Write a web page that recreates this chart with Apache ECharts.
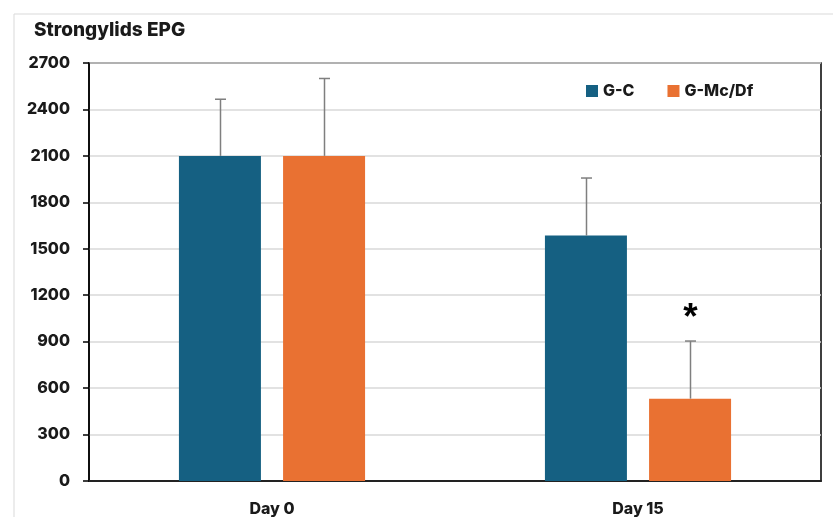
<!DOCTYPE html>
<html>
<head>
<meta charset="utf-8">
<script src="https://cdn.jsdelivr.net/npm/echarts@6/dist/echarts.min.js"></script>
<style>
html,body{margin:0;padding:0;background:#fff;}
#c{width:833px;height:517px;}
</style>
</head>
<body>
<div id="c"></div>
<script>
var categories = ['Day 0', 'Day 15'];
var seriesNames = ['G-C', 'G-Mc/Df'];
var gcValues = [2100, 1585];
var gcErrTop = [2466, 1957];
var mcValues = [2100, 532];
var mcErrTop = [2600, 904];
var mcSignif = ['', '*'];
var yTicks = [0, 300, 600, 900, 1200, 1500, 1800, 2100, 2400, 2700];

var colors = ['#156082', '#E97132'];
var FONT = 'Inter, "Liberation Sans", sans-serif';
var BAR_W = 82;
var GAP = 0.27;

function errSeries(values, tops, sig, sideSign, name) {
  var data = categories.map(function (c, i) { return [i, values[i], tops[i], sig[i] || '']; });
  return {
    type: 'custom',
    name: name + ' err',
    silent: true,
    z: 5,
    data: data,
    encode: { x: 0, y: [1, 2] },
    renderItem: function (params, api) {
      var off = sideSign * (BAR_W + BAR_W * GAP) / 2;
      var base = api.coord([api.value(0), api.value(1)]);
      var top = api.coord([api.value(0), api.value(2)]);
      var x = Math.round(base[0] + off) + 0.5;
      var children = [
        { type: 'line', shape: { x1: x, y1: base[1], x2: x, y2: top[1] }, style: { stroke: '#7f7f7f', lineWidth: 1.5 } },
        { type: 'line', shape: { x1: x - 5.5, y1: top[1], x2: x + 5.5, y2: top[1] }, style: { stroke: '#7f7f7f', lineWidth: 1.5 } }
      ];
      var s = api.value(3);
      if (s) {
        children.push({ type: 'text', x: x, y: top[1] - 22, style: { text: s, fill: '#000', font: 'bold 37px "Liberation Sans", sans-serif', align: 'center', verticalAlign: 'middle' } });
      }
      return { type: 'group', children: children };
    }
  };
}

var chart = echarts.init(document.getElementById('c'), null, { renderer: 'canvas' });
chart.setOption({
  animation: false,
  backgroundColor: '#fff',
  graphic: [
    { type: 'rect', shape: { x: 14, y: 14, width: 840, height: 520 }, style: { fill: 'none', stroke: '#d9d9d9', lineWidth: 1 }, z: -1 },
    { type: 'text', left: 34, top: 21, style: { text: 'Strongylids EPG', fill: '#1a1a1a', font: '800 19px ' + FONT } }
  ],
  legend: {
    left: 581, top: 78,
    icon: 'rect', itemWidth: 12, itemHeight: 12, itemGap: 33,
    textStyle: { fontFamily: FONT, fontWeight: 800, fontSize: 16, color: '#1a1a1a' },
    data: seriesNames
  },
  grid: { left: 89, right: 12, top: 63, bottom: 35, show: true, borderColor: '#000', borderWidth: 1.5, containLabel: false },
  xAxis: {
    type: 'category', data: categories,
    axisLine: { lineStyle: { color: '#222', width: 2 } },
    axisTick: { alignWithLabel: true, length: 6, lineStyle: { color: '#000', width: 1.5 } },
    axisLabel: { fontFamily: FONT, fontWeight: 800, fontSize: 16, color: '#1a1a1a', margin: 20 }
  },
  yAxis: {
    type: 'value', min: 0, max: 2700, interval: 300,
    axisLine: { show: true, lineStyle: { color: '#000', width: 1.5 } },
    axisTick: { show: true, length: 6, lineStyle: { color: '#000', width: 1.5 } },
    splitLine: { lineStyle: { color: '#d9d9d9', width: 1.5 } },
    axisLabel: { fontFamily: FONT, fontWeight: 800, fontSize: 16, color: '#1a1a1a', margin: 19,
      formatter: function (v) { return yTicks.indexOf(v) >= 0 ? String(v) : ''; } }
  },
  series: [
    { type: 'bar', name: seriesNames[0], data: gcValues, barWidth: BAR_W, barGap: '27%', itemStyle: { color: colors[0] } },
    { type: 'bar', name: seriesNames[1], data: mcValues, barWidth: BAR_W, barGap: '27%', itemStyle: { color: colors[1] } },
    errSeries(gcValues, gcErrTop, ['', ''], -1, seriesNames[0]),
    errSeries(mcValues, mcErrTop, mcSignif, 1, seriesNames[1])
  ]
});
</script>
</body>
</html>
